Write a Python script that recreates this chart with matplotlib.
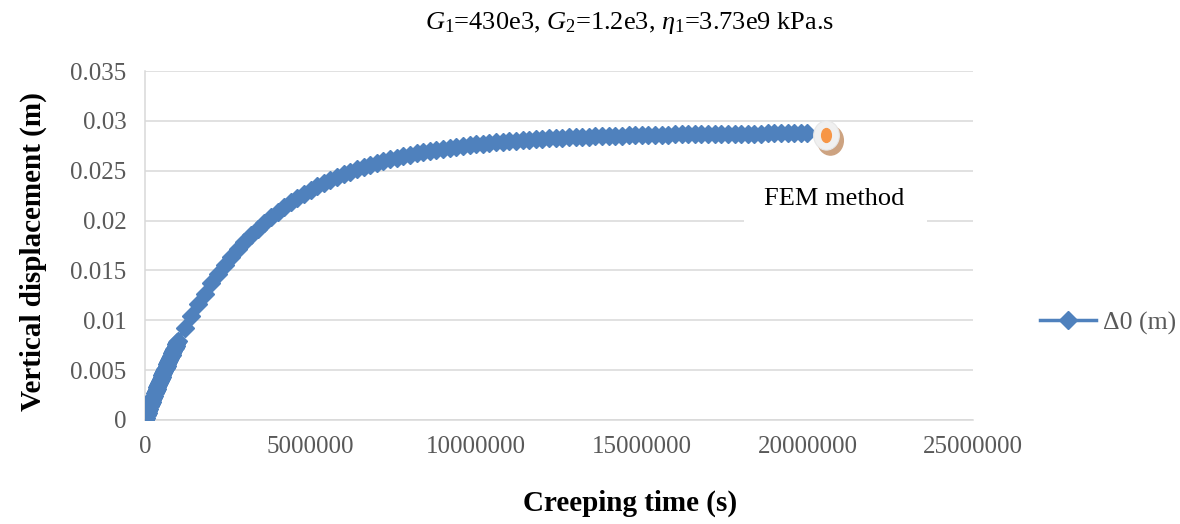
import matplotlib as mpl
import matplotlib.pyplot as plt
from matplotlib.patches import Rectangle
from matplotlib.path import Path
from matplotlib.transforms import Affine2D, offset_copy

mpl.rcParams.update({
    "font.family": "Liberation Serif",
    "mathtext.fontset": "custom",
    "mathtext.rm": "Liberation Serif",
    "mathtext.it": "Liberation Serif:italic",
    "mathtext.bf": "Liberation Serif:bold",
})

# creeping time (s) and vertical displacement (m)
TIME = [0, 25000, 50000, 75000, 100000, 125000, 150000, 175000, 200000, 225000,
        250000, 275000, 300000, 325000, 350000, 375000, 400000, 425000, 450000,
        475000, 500000, 525000, 550000, 575000, 600000, 625000, 650000, 675000,
        700000, 725000, 750000, 775000, 800000, 825000, 850000, 875000, 900000,
        925000, 950000, 975000, 1000000,
        1200000, 1400000, 1600000, 1800000, 2000000, 2200000, 2400000, 2600000,
        2800000, 3000000, 3200000, 3400000, 3600000, 3800000, 4000000, 4200000,
        4400000, 4600000, 4800000, 5000000, 5200000, 5400000, 5600000, 5800000,
        6000000, 6200000, 6400000, 6600000, 6800000, 7000000, 7200000, 7400000,
        7600000, 7800000, 8000000, 8200000, 8400000, 8600000, 8800000, 9000000,
        9200000, 9400000, 9600000, 9800000, 10000000, 10200000, 10400000,
        10600000, 10800000, 11000000, 11200000, 11400000, 11600000, 11800000,
        12000000, 12200000, 12400000, 12600000, 12800000, 13000000, 13200000,
        13400000, 13600000, 13800000, 14000000, 14200000, 14400000, 14600000,
        14800000, 15000000, 15200000, 15400000, 15600000, 15800000, 16000000,
        16200000, 16400000, 16600000, 16800000, 17000000, 17200000, 17400000,
        17600000, 17800000, 18000000, 18200000, 18400000, 18600000, 18800000,
        19000000, 19200000, 19400000, 19600000, 19800000, 20000000]
DISP = [0.0, 0.000231, 0.000461, 0.000688, 0.000914, 0.001138, 0.001360, 0.001581,
        0.001799, 0.002016, 0.002231, 0.002445, 0.002657, 0.002866, 0.003075,
        0.003281, 0.003486, 0.003690, 0.003891, 0.004091, 0.004290, 0.004487,
        0.004682, 0.004876, 0.005068, 0.005259, 0.005448, 0.005635, 0.005821,
        0.006006, 0.006189, 0.006371, 0.006551, 0.006730, 0.006907, 0.007083,
        0.007257, 0.007430, 0.007602, 0.007772, 0.007941,
        0.009244, 0.010466, 0.011612, 0.012685, 0.013692, 0.014636, 0.015521,
        0.016351, 0.017129, 0.017858, 0.018542, 0.019182, 0.019783, 0.020347,
        0.020875, 0.021370, 0.021834, 0.022269, 0.022677, 0.023060, 0.023419,
        0.023755, 0.024070, 0.024366, 0.024643, 0.024902, 0.025146, 0.025374,
        0.025588, 0.025789, 0.025977, 0.026153, 0.026319, 0.026474, 0.026619,
        0.026755, 0.026883, 0.027003, 0.027115, 0.027221, 0.027319, 0.027412,
        0.027498, 0.027580, 0.027656, 0.027727, 0.027795, 0.027857, 0.027916,
        0.027971, 0.028023, 0.028072, 0.028117, 0.028160, 0.028200, 0.028237,
        0.028273, 0.028305, 0.028336, 0.028365, 0.028393, 0.028418, 0.028442,
        0.028464, 0.028485, 0.028505, 0.028523, 0.028541, 0.028557, 0.028572,
        0.028586, 0.028600, 0.028612, 0.028624, 0.028635, 0.028645, 0.028655,
        0.028664, 0.028672, 0.028680, 0.028688, 0.028695, 0.028701, 0.028708,
        0.028713, 0.028719, 0.028724, 0.028729, 0.028733, 0.028737, 0.028741,
        0.028745, 0.028748, 0.028752, 0.028755]
FEM_TIME = [20550000]
FEM_DISP = [0.02855]

X_TICKS = [0, 5000000, 10000000, 15000000, 20000000, 25000000]
Y_TICKS = [0, 0.005, 0.01, 0.015, 0.02, 0.025, 0.03, 0.035]
Y_LABELS = ["0", "0.005", "0.01", "0.015", "0.02", "0.025", "0.03", "0.035"]

BLUE = "#4F81BD"
ORANGE = "#F79646"
GRID = "#D9D9D9"
TICK = "#595959"

fig = plt.figure(figsize=(11.8, 5.24), dpi=100)
ax = fig.add_axes([0.1229, 0.1985, 0.7017, 0.666])

ax.plot(TIME, DISP, color=BLUE, lw=2.5, marker="D", ms=9.2,
        mec=BLUE, mfc=BLUE, label="\u03940 (m)", zorder=3)

# FEM point: shadow, pale halo, orange oval
oval = Path.unit_circle().transformed(Affine2D().scale(0.7, 1.0))
halo = Path.unit_circle().transformed(Affine2D().scale(0.88, 1.0))
shadow_tr = offset_copy(ax.transData, fig=fig, x=4, y=-5, units="dots")
ax.plot(FEM_TIME, FEM_DISP, ls="none", marker=halo, ms=21, mfc="#CDA381",
        mec="#CDA381", transform=shadow_tr, zorder=4)
ax.plot(FEM_TIME, FEM_DISP, ls="none", marker=halo, ms=21, mfc="#F0F0F0",
        mec="#E6E6E6", mew=0.8, zorder=5)
ax.plot(FEM_TIME, FEM_DISP, ls="none", marker=oval, ms=10, mfc=ORANGE,
        mec=ORANGE, zorder=6)

# data label box for the FEM point
ax.add_patch(Rectangle((18070000, 0.0195), 5540000, 0.0052, fc="white",
                       ec="none", zorder=2, clip_on=False))
ax.text(20800000, 0.0222, "FEM method", fontsize=19, ha="center", va="center",
        zorder=4)

ax.set_xlim(0, 25000000)
ax.set_ylim(0, 0.035)
ax.set_xticks(X_TICKS, [str(v) for v in X_TICKS])
ax.set_yticks(Y_TICKS, Y_LABELS)
ax.tick_params(length=0, labelsize=18, colors=TICK)
ax.tick_params(axis="x", pad=11.5)
ax.tick_params(axis="y", pad=13.5)
ax.grid(axis="y", color=GRID, lw=1.1, zorder=0)
ax.set_axisbelow(True)
for side in ("top", "right"):
    ax.spines[side].set_visible(False)
for side in ("left", "bottom"):
    ax.spines[side].set_color(GRID)
    ax.spines[side].set_linewidth(1.1)

fig.text(0.5339, 0.957, r"$G_{\mathit{1}}$=430e3, $G_{\mathit{2}}$=1.2e3, $\eta_{\mathit{1}}$=3.73e9 kPa.s",
         ha="center", va="center", fontsize=19)
fig.text(0.5339, 0.040, "Creeping time (s)", ha="center", va="center",
         fontsize=21, fontweight="bold")
fig.text(0.028, 0.52, "Vertical displacement (m)", ha="center", va="center",
         rotation=90, fontsize=21, fontweight="bold")

fig.legend(loc="center left", bbox_to_anchor=(0.862, 0.3836), frameon=False,
           fontsize=18.5, handlelength=2.15, handletextpad=0.3, labelcolor=TICK)

fig.savefig("out.png", dpi=100)
